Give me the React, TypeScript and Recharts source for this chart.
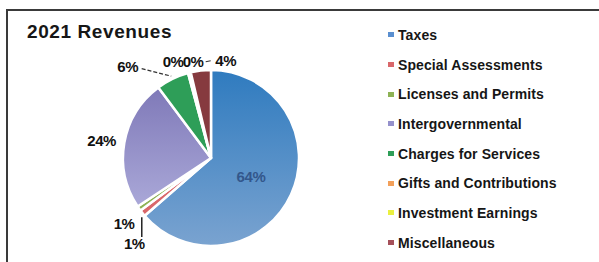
import { PieChart, Pie, Cell, Legend } from "recharts";

const categories = [
  "Taxes",
  "Special Assessments",
  "Licenses and Permits",
  "Intergovernmental",
  "Charges for Services",
  "Gifts and Contributions",
  "Investment Earnings",
  "Miscellaneous",
];
// share of 2021 revenue, percent
const shares = [63.6, 1.2, 0.9, 24.1, 6.0, 0.2, 0.3, 3.7];
const sliceColors = [
  "url(#taxesFill)",
  "#d9676a",
  "#8db255",
  "url(#interFill)",
  "#2e9e58",
  "#f3a05a",
  "#eaf040",
  "#863a3f",
];
const legendColors = [
  "#5a8fd0",
  "#d9676a",
  "#8db255",
  "#9591cc",
  "#2e9e58",
  "#f3a05a",
  "#eaf040",
  "#a5505a",
];

const data = categories.map((name, i) => ({ name, value: shares[i] }));

const FONT = '"Liberation Sans", Arial, sans-serif';
const RAD = Math.PI / 180;

// hand placement of the crowded outside labels
const labelNudge: Record<string, { dx: number; dy: number; leader?: string }> = {
  "Special Assessments": { dx: -4.5, dy: -1.5 },
  "Licenses and Permits": { dx: 10, dy: 25, leader: "vertical" },
  Intergovernmental: { dx: -5, dy: 1 },
  "Charges for Services": { dx: -37, dy: 4, leader: "dashed" },
  "Gifts and Contributions": { dx: -11, dy: 6 },
  "Investment Earnings": { dx: 7.5, dy: 6 },
  Miscellaneous: { dx: 27, dy: 8, leader: "short" },
};

function renderLabel(props: any) {
  const { cx, cy, midAngle, outerRadius, percent, name } = props;
  const text = `${Math.round(percent * 100)}%`;
  const cos = Math.cos(-midAngle * RAD);
  const sin = Math.sin(-midAngle * RAD);

  if (name === "Taxes") {
    const r = outerRadius * 0.5;
    return (
      <text x={cx + r * cos} y={cy + r * sin} textAnchor="middle" dominantBaseline="central"
        fill="#33578c" fontFamily={FONT} fontWeight="bold" fontSize={15} letterSpacing={-0.3}>
        {text}
      </text>
    );
  }

  const nudge = labelNudge[name] || { dx: 0, dy: 0 };
  const r = outerRadius + 18;
  const x = cx + r * cos + nudge.dx;
  const y = cy + r * sin + nudge.dy;
  const ex = cx + (outerRadius + 3) * cos;
  const ey = cy + (outerRadius + 3) * sin;

  let leader = null;
  if (nudge.leader === "dashed") {
    leader = <line x1={x + 14} y1={y + 2} x2={ex} y2={ey} stroke="#333" strokeWidth={1.2} strokeDasharray="4 2" />;
  } else if (nudge.leader === "vertical") {
    leader = <line x1={x + 7.5} y1={ey + 7} x2={x + 7.5} y2={y - 7} stroke="#222" strokeWidth={1.5} />;
  } else if (nudge.leader === "short") {
    leader = <line x1={x - 20} y1={y + 1} x2={x - 15} y2={y} stroke="#333" strokeWidth={1.2} />;
  }

  return (
    <g>
      {leader}
      <text x={x} y={y} textAnchor="middle" dominantBaseline="central"
        fill="#111" fontFamily={FONT} fontWeight="bold" fontSize={15} letterSpacing={-0.5}>
        {text}
      </text>
    </g>
  );
}

function LegendList() {
  return (
    <div style={{ fontFamily: FONT }}>
      {categories.map((name, i) => (
        <div key={name} style={{ height: 29.7, display: "flex", alignItems: "center" }}>
          <span style={{ width: 6, height: 5, background: legendColors[i], marginRight: 4 }} />
          <span style={{ fontSize: 14, fontWeight: "bold", color: "#161616", letterSpacing: 0.1 }}>
            {name}
          </span>
        </div>
      ))}
    </div>
  );
}

export default function App() {
  return (
    <div style={{ position: "absolute", left: 0, top: 0, width: 599, height: 262, background: "#fff", overflow: "hidden" }}>
      <div style={{ position: "absolute", left: 6, top: 9, width: 600, height: 260, border: "2px solid #3a3a3a" }} />
      <div style={{ position: "absolute", left: 27, top: 21, fontFamily: FONT, fontWeight: "bold", fontSize: 19, color: "#161616", letterSpacing: 0.6 }}>
        2021 Revenues
      </div>
      <PieChart width={599} height={262} margin={{ top: 0, right: 0, bottom: 0, left: 0 }} style={{ position: "absolute", left: 0, top: 0 }}>
        <defs>
          <linearGradient id="taxesFill" x1="0" y1="0" x2="0" y2="1">
            <stop offset="0%" stopColor="#2f7bbf" />
            <stop offset="100%" stopColor="#7aa3d0" />
          </linearGradient>
          <linearGradient id="interFill" x1="0" y1="0" x2="0" y2="1">
            <stop offset="0%" stopColor="#7f79b8" />
            <stop offset="100%" stopColor="#aaa8d8" />
          </linearGradient>
        </defs>
        <Pie
          data={data}
          dataKey="value"
          nameKey="name"
          cx={211}
          cy={158}
          outerRadius={88}
          startAngle={90}
          endAngle={-270}
          stroke="#fff"
          strokeWidth={2.5}
          label={renderLabel}
          labelLine={false}
          isAnimationActive={false}
        >
          {data.map((d, i) => (
            <Cell key={d.name} fill={sliceColors[i]} />
          ))}
        </Pie>
        <Legend
          layout="vertical"
          align="right"
          verticalAlign="top"
          content={<LegendList />}
          wrapperStyle={{ left: 388, top: 20, width: 210 }}
        />
      </PieChart>
    </div>
  );
}
